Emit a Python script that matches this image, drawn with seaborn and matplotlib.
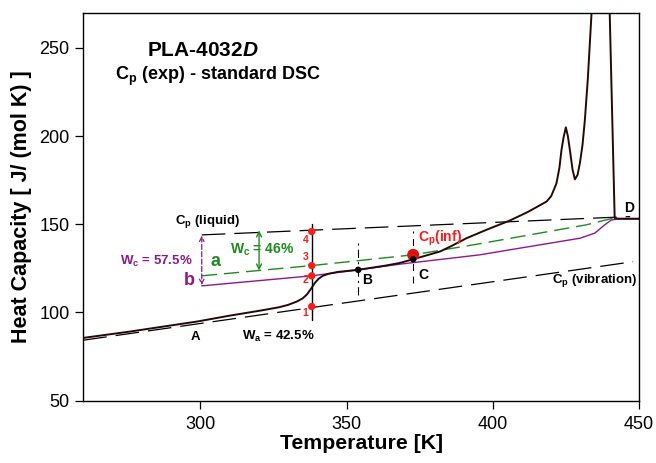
import matplotlib
matplotlib.use("Agg")
import matplotlib.pyplot as plt
import seaborn as sns
import numpy as np

# ---------------- data ----------------
exp_T = [260, 276, 299, 310, 321, 327, 330, 333, 335, 336.5, 338, 339.2, 340.5, 342,
         344, 347, 354, 363, 368, 372.8, 382, 386, 391, 398, 405.8, 412, 418.4, 420,
         421, 421.8, 422.8, 423.5, 424.2, 425.0, 425.7, 426.4, 427.3, 428.1, 429.0,
         429.8, 430.7, 431.5, 432.5, 433.8, 438.3, 440.0, 441.7, 443, 450]
exp_Cp = [85.6, 89.2, 94.9, 98.2, 101.2, 103.0, 104.3, 106.2, 108.0, 110.3, 113.8,
          116.8, 119.2, 120.9, 122.0, 123.0, 124.2, 126.5, 128.0, 130.2, 134.6, 137.8,
          142.1, 147.0, 152.1, 157.0, 162.9, 166.0, 170.0, 173.3, 182.0, 192.0, 199.0,
          205.0, 200.0, 192.0, 181.0, 175.5, 178.0, 184.6, 195.0, 209.0, 232.0, 270.0,
          385.0, 270.0, 153.5, 153.2, 153.2]

liq_T = [300.5, 447]
liq_Cp = [144.0, 154.4]

vib_T = [260, 448]
vib_Cp = [84.3, 128.8]

a_T = [300.5, 338.1, 372.8, 395.6, 432, 441.2]
a_Cp = [120.8, 126.6, 132.7, 139.0, 149.7, 153.5]

b_T = [300.5, 338.1, 354, 368.2, 395.6, 402.4, 429.8, 434.9, 438.3, 440.6, 443, 450]
b_Cp = [115.1, 120.8, 124.2, 127.4, 132.7, 134.6, 142.1, 145.0, 149.7, 152.5, 153.0, 153.0]

red_T = [338.1, 338.1, 338.1, 338.1]
red_Cp = [103.4, 120.8, 126.6, 145.9]
red_labels = ["1", "2", "3", "4"]
red_label_Cp = [99.7, 118.5, 131.2, 141.2]

inf_T = [372.8]
inf_Cp = [132.7]

blk_T = [354, 372.8]
blk_Cp = [124.2, 130.2]

xticks = [300, 350, 400, 450]
yticks = [50, 100, 150, 200, 250]

# ---------------- style ----------------
sns.set_theme(style="white")
plt.rcParams["font.family"] = ["Liberation Sans", "DejaVu Sans"]
plt.rcParams["mathtext.fontset"] = "custom"
plt.rcParams["mathtext.rm"] = "Liberation Sans:bold"
plt.rcParams["mathtext.bf"] = "Liberation Sans:bold"
plt.rcParams["mathtext.it"] = "Liberation Sans:italic:bold"
plt.rcParams["lines.scale_dashes"] = False
plt.rcParams["text.color"] = "black"
plt.rcParams["axes.labelcolor"] = "black"
plt.rcParams["xtick.color"] = "black"
plt.rcParams["ytick.color"] = "black"

BLK = "#250808"
PUR = "#8b1a8b"
GRN = "#1f8a1f"
RED = "#ff1a1a"

fig = plt.figure(figsize=(6.56, 4.63), dpi=100)
ax = fig.add_axes([0.127, 0.1346, 0.847, 0.838])

long_dash = (0, (17, 6.5))
# reference lines
sns.lineplot(x=liq_T, y=liq_Cp, ax=ax, color="black", lw=0.9, linestyle=long_dash,
             sort=False, estimator=None)
sns.lineplot(x=vib_T, y=vib_Cp, ax=ax, color="black", lw=0.9, linestyle=long_dash,
             sort=False, estimator=None)
sns.lineplot(x=a_T, y=a_Cp, ax=ax, color=GRN, lw=1.0, linestyle=(0, (11, 5)),
             sort=False, estimator=None)
sns.lineplot(x=b_T, y=b_Cp, ax=ax, color=PUR, lw=1.0, sort=False, estimator=None)
# experimental curve
sns.lineplot(x=exp_T, y=exp_Cp, ax=ax, color=BLK, lw=1.4, sort=False, estimator=None)

# vertical construction lines
ax.plot([red_T[0], red_T[0]], [96, 150], color="black", lw=1.0)
ax.plot([blk_T[0], blk_T[0]], [110, 139.3], color="black", lw=0.8,
        linestyle=(0, (6, 3, 1.5, 3)))
ax.plot([blk_T[1], blk_T[1]], [116.7, 146], color="black", lw=0.8,
        linestyle=(0, (5, 4)))

# points
sns.scatterplot(x=red_T, y=red_Cp, ax=ax, color=RED, s=28, edgecolor="none", zorder=5)
sns.scatterplot(x=inf_T, y=inf_Cp, ax=ax, color="#e01010", s=75, edgecolor="none", zorder=5)
sns.scatterplot(x=blk_T, y=blk_Cp, ax=ax, color="black", s=22, edgecolor="none", zorder=6)

# arrows
ax.annotate("", xy=(300.5, 115.6), xytext=(300.5, 143.6),
            arrowprops=dict(arrowstyle="<->", color=PUR, lw=0.9, linestyle="--",
                            shrinkA=0, shrinkB=0, mutation_scale=8))
ax.annotate("", xy=(320.1, 123.8), xytext=(320.1, 146.6),
            arrowprops=dict(arrowstyle="<->", color=GRN, lw=1.0,
                            shrinkA=0, shrinkB=0, mutation_scale=9))

# text
ax.text(281.7, 248.4, r"PLA-$\mathit{4032D}$", fontsize=15, fontweight="bold",
        ha="left", va="center")
ax.text(270.8, 233.7, r"C$_\mathrm{p}$ (exp) - standard DSC", fontsize=13,
        fontweight="bold", ha="left", va="center")
fs = 9.5
ax.text(291.3, 151.5, r"C$_\mathrm{p}$ (liquid)", fontsize=fs, fontweight="bold",
        ha="left", va="center")
ax.text(297.3, 128.9, r"W$_\mathrm{c}$ = 57.5%", fontsize=fs, fontweight="bold",
        color=PUR, ha="right", va="center")
ax.text(296.3, 118.3, "b", fontsize=13, fontweight="bold", color=PUR,
        ha="center", va="center")
ax.text(305.3, 128.7, "a", fontsize=13, fontweight="bold", color=GRN,
        ha="center", va="center")
ax.text(310.1, 135.5, r"W$_\mathrm{c}$ = 46%", fontsize=fs + 0.5, fontweight="bold",
        color=GRN, ha="left", va="center")
ax.text(298.5, 86.2, "A", fontsize=fs, fontweight="bold", ha="center", va="center")
ax.text(314.1, 86.4, r"W$_\mathrm{a}$ = 42.5%", fontsize=fs, fontweight="bold",
        ha="left", va="center")
ax.text(357.1, 118.5, "B", fontsize=fs + 0.5, fontweight="bold", ha="center", va="center")
ax.text(376.4, 121.4, "C", fontsize=fs + 0.5, fontweight="bold", ha="center", va="center")
ax.text(374.4, 142.3, r"C$_\mathrm{p}$(inf)", fontsize=fs + 0.5, fontweight="bold",
        color=RED, ha="left", va="center")
ax.text(446.8, 159.3, "D", fontsize=fs + 0.5, fontweight="bold", ha="center", va="center")
ax.text(420.1, 118.0, r"C$_\mathrm{p}$ (vibration)", fontsize=fs, fontweight="bold",
        ha="left", va="center")
for lab, yy in zip(red_labels, red_label_Cp):
    ax.text(336.0, yy, lab, fontsize=7.5, fontweight="bold", color=RED,
            ha="center", va="center")

# axes
ax.set_xlim(260, 450)
ax.set_ylim(50, 270)
ax.set_xticks(xticks)
ax.set_yticks(yticks)
ax.tick_params(direction="out", length=6, width=0.9, labelsize=13, colors="black",
               bottom=True, left=True)
ax.tick_params(axis="x", pad=5)
ax.tick_params(axis="y", pad=4)
for sp in ax.spines.values():
    sp.set_color("black")
    sp.set_linewidth(1.0)
ax.set_xlabel("Temperature [K]", fontsize=15.3, fontweight="bold", labelpad=1)
ax.set_ylabel("Heat Capacity [ J/ (mol K) ]", fontsize=15.5, fontweight="bold",
              labelpad=5)

fig.savefig("out.png", dpi=100)
